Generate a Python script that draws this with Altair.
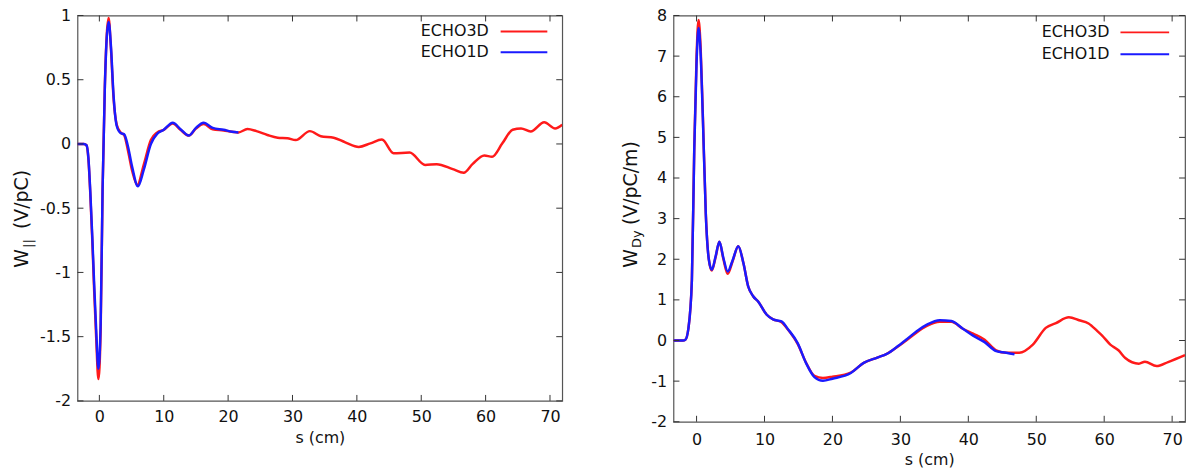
import altair as alt
import pandas as pd

FONT = "DejaVu Sans"
XDOM = [-3.4, 71.9]
XTICKS = [0, 10, 20, 30, 40, 50, 60, 70]

# ---- Left panel: longitudinal wake W_|| (V/pC)
L_YTICKS = [-2, -1.5, -1, -0.5, 0, 0.5, 1]
L3_S = [-3.4, -2.4, -2.0, -1.7, -1.4, -1.1, -0.8, -0.5, -0.15, 0.2, 0.5, 0.85, 1.15, 1.44, 1.8, 2.2, 2.7,
        3.3, 3.85, 4.4, 5.1, 5.9, 6.9, 8.0, 9.0, 10.0, 11.4, 12.6, 13.9, 15.0, 16.2, 17.6, 19.3, 20.6,
        21.6, 23.0, 24.4, 26.1, 27.7, 29.2, 30.5, 32.7, 34.4, 36.4, 38.2, 40.3, 42.1, 43.9, 45.7, 48.2,
        50.6, 52.4, 54.9, 56.6, 58.0, 59.8, 61.0, 62.6, 64.2, 65.5, 67.0, 69.1, 70.8, 71.9]
L3_W = [0, 0, -0.01, -0.12, -0.4, -0.75, -1.15, -1.5, -1.83, -1.45, -0.35, 0.45, 0.85, 0.98, 0.74, 0.36, 0.15,
        0.09, 0.07, -0.04, -0.21, -0.32, -0.16, 0.03, 0.09, 0.11, 0.16, 0.11, 0.065, 0.12, 0.155, 0.115, 0.105, 0.095,
        0.09, 0.116, 0.1, 0.07, 0.049, 0.045, 0.03, 0.1, 0.06, 0.049, 0.013, -0.023, 0.005, 0.034, -0.072, -0.067,
        -0.163, -0.157, -0.196, -0.224, -0.155, -0.09, -0.1, 0.005, 0.111, 0.121, 0.097, 0.169, 0.121, 0.15]
L1_S = [-3.4, -2.4, -2.0, -1.7, -1.4, -1.1, -0.8, -0.5, -0.15, 0.2, 0.5, 0.85, 1.15, 1.44, 1.8, 2.2, 2.7,
        3.3, 3.85, 4.4, 5.1, 6.0, 6.9, 8.0, 9.0, 10.0, 11.4, 12.6, 13.9, 15.0, 16.2, 17.6, 19.3, 20.6, 21.6]
L1_W = [0, 0, -0.01, -0.11, -0.38, -0.72, -1.1, -1.44, -1.75, -1.4, -0.35, 0.44, 0.83, 0.95, 0.76, 0.38, 0.14,
        0.085, 0.075, -0.01, -0.18, -0.33, -0.2, 0.0, 0.08, 0.11, 0.165, 0.115, 0.065, 0.125, 0.165, 0.125, 0.11, 0.095, 0.09]

# ---- Right panel: transverse wake W_Dy (V/pC/m)
R_YTICKS = [-2, -1, 0, 1, 2, 3, 4, 5, 6, 7, 8]
R3_S = [-3.4, -2.0, -1.65, -1.2, -0.69, -0.34, 0.0, 0.29, 0.6, 0.92, 1.36, 1.8, 2.24, 2.8, 3.36, 3.95, 4.58,
        5.3, 6.14, 6.9, 7.6, 8.33, 9.06, 10.3, 11.26, 12.5, 13.45, 14.9, 16.1, 17.35, 18.6, 20.0, 22.7, 24.6,
        26.6, 28.0, 29.7, 31.0, 32.4, 33.9, 35.8, 37.5, 39.2, 40.7, 42.4, 44.1, 45.6, 47.5, 49.5, 51.4, 52.9,
        54.8, 56.3, 57.7, 59.0, 59.7, 60.9, 62.1, 63.1, 65.1, 66.0, 67.7, 69.4, 71.9]
R3_W = [0, 0, 0.02, 0.3, 1.49, 4.75, 7.0, 7.89, 7.2, 5.56, 3.12, 2.0, 1.72, 2.05, 2.43, 2.0, 1.64,
        1.95, 2.32, 1.9, 1.33, 1.09, 0.96, 0.64, 0.52, 0.45, 0.27, -0.09, -0.54, -0.87, -0.92, -0.89, -0.79, -0.55,
        -0.42, -0.33, -0.14, 0.02, 0.2, 0.36, 0.46, 0.46, 0.29, 0.17, 0.02, -0.24, -0.3, -0.3, -0.1, 0.31, 0.43,
        0.57, 0.5, 0.42, 0.23, 0.12, -0.1, -0.24, -0.43, -0.57, -0.52, -0.63, -0.53, -0.36]
R1_S = [-3.4, -2.0, -1.65, -1.2, -0.69, -0.34, 0.0, 0.29, 0.6, 0.92, 1.36, 1.8, 2.24, 2.8, 3.36, 3.95, 4.58,
        5.3, 6.14, 6.9, 7.6, 8.33, 9.06, 10.3, 11.26, 12.5, 13.45, 14.9, 16.1, 17.35, 18.6, 20.0, 22.7, 24.6,
        26.6, 28.0, 29.7, 31.0, 32.4, 33.9, 35.8, 37.5, 39.2, 40.7, 42.4, 44.1, 45.6, 46.8]
R1_W = [0, 0, 0.02, 0.3, 1.49, 4.7, 6.85, 7.69, 7.05, 5.5, 3.1, 2.0, 1.74, 2.07, 2.43, 2.03, 1.7,
        1.97, 2.32, 1.9, 1.33, 1.09, 0.96, 0.64, 0.52, 0.47, 0.28, -0.07, -0.55, -0.9, -0.99, -0.94, -0.8, -0.55,
        -0.42, -0.33, -0.13, 0.04, 0.23, 0.39, 0.5, 0.48, 0.29, 0.12, -0.04, -0.26, -0.3, -0.34]

LEGEND = ["ECHO3D", "ECHO1D"]
RED = "#ff1a1a"
BLUE = "#1a1aff"
LABEL_EXPR = "replace(format(datum.value, '~g'), '\u2212', '-')"


def panel(s3, w3, s1, w1, ydom, yticks, width, height, leg, title_parts, label_pad_x, title_pad_x):
    df3 = pd.DataFrame({"s": s3, "w": w3})
    df1 = pd.DataFrame({"s": s1, "w": w1})
    xscale = alt.Scale(domain=XDOM, nice=False, zero=False)
    yscale = alt.Scale(domain=ydom, nice=False, zero=False)
    xaxis = alt.Axis(values=XTICKS, title="s (cm)", ticks=False, tickSize=0, domain=False, grid=False,
                     labelPadding=label_pad_x, titlePadding=title_pad_x, labelExpr=LABEL_EXPR)
    yaxis = alt.Axis(values=yticks, title=None, ticks=False, tickSize=0, domain=False, grid=False,
                     labelPadding=7, labelExpr=LABEL_EXPR)
    xenc = alt.X("s:Q", scale=xscale, axis=xaxis)
    yenc = alt.Y("w:Q", scale=yscale, axis=yaxis)
    red = alt.Chart(df3).mark_line(color=RED, strokeWidth=2.5, interpolate="monotone", clip=True).encode(x=xenc, y=yenc)
    blue = alt.Chart(df1).mark_line(color=BLUE, strokeWidth=2.5, interpolate="monotone", clip=True).encode(x=xenc, y=yenc)

    xt = pd.DataFrame({"s": XTICKS})
    yt = pd.DataFrame({"w": yticks})
    tick_style = dict(color="#333333", strokeWidth=1)
    ticks = [
        alt.Chart(xt).mark_rule(**tick_style).encode(x=xenc, y=alt.value(height), y2=alt.value(height - 6)),
        alt.Chart(xt).mark_rule(**tick_style).encode(x=xenc, y=alt.value(0), y2=alt.value(6)),
        alt.Chart(yt).mark_rule(**tick_style).encode(y=yenc, x=alt.value(0), x2=alt.value(6)),
        alt.Chart(yt).mark_rule(**tick_style).encode(y=yenc, x=alt.value(width - 6), x2=alt.value(width)),
    ]

    dummy = pd.DataFrame({"a": [0]})
    tx_right, lx1, lx2, ly1, ly2 = leg
    legend_layers = []
    for name, col, yy in [(LEGEND[0], RED, ly1), (LEGEND[1], BLUE, ly2)]:
        legend_layers.append(
            alt.Chart(dummy).mark_text(align="right", baseline="middle", fontSize=16, font=FONT, color="#111")
            .encode(x=alt.value(tx_right), y=alt.value(yy), text=alt.value(name)))
        legend_layers.append(
            alt.Chart(dummy).mark_rule(color=col, strokeWidth=2)
            .encode(x=alt.value(lx1), x2=alt.value(lx2), y=alt.value(yy)))

    title_layers = []
    for txt, size, xx, yy in title_parts:
        title_layers.append(
            alt.Chart(dummy).mark_text(angle=270, align="left", baseline="alphabetic", fontSize=size, font=FONT,
                                       color="#111")
            .encode(x=alt.value(xx), y=alt.value(yy), text=alt.value(txt)))

    return alt.layer(red, blue, *ticks, *legend_layers, *title_layers).properties(width=width, height=height)


left = panel(L3_S, L3_W, L1_S, L1_W, [-2, 1], L_YTICKS, 488, 388,
             (414, 426, 473, 16, 37),
             [("W", 19, -50, 254), ("||", 13, -46, 234), ("(V/pC)", 19, -50, 215)],
             8, 5)
right = panel(R3_S, R3_W, R1_S, R1_W, [-2, 8], R_YTICKS, 515, 409,
              (439, 450, 499, 17, 39),
              [("W", 19, -37, 254), ("Dy", 13, -33, 234), ("(V/pC/m)", 19, -37, 211)],
              9.5, 5)

chart = alt.hconcat(left, right, spacing=57).configure(
    padding={"left": 12, "top": 5, "right": 4, "bottom": 5}
).configure_view(
    stroke="#555555", strokeWidth=1.2
).configure_axis(
    labelFont=FONT, labelFontSize=16, labelColor="#111", titleFont=FONT, titleFontSize=16,
    titleFontWeight="normal", titleColor="#111"
)

chart.save("out.html", embed_options={"renderer": "svg", "actions": False})
